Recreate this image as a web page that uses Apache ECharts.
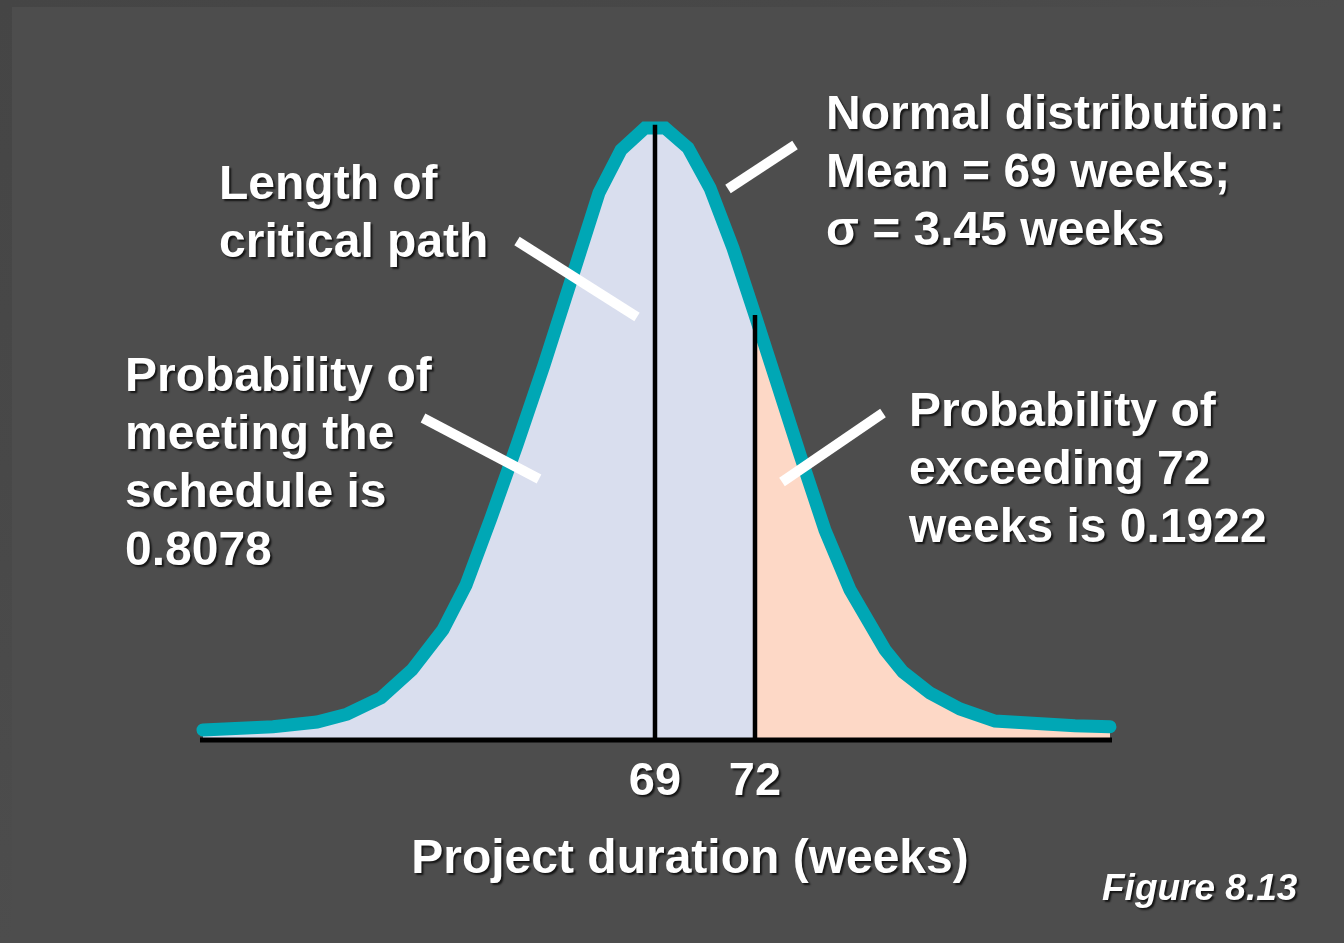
<!DOCTYPE html>
<html>
<head>
<meta charset="utf-8">
<script src="https://cdn.jsdelivr.net/npm/echarts@6/dist/echarts.min.js"></script>
<style>
  html, body { margin: 0; padding: 0; background: #4d4d4d; }
  #chart { width: 1344px; height: 943px; }
</style>
</head>
<body>
<div id="chart"></div>
<script>
// Bell curve of project duration: weeks on x, curve height on y
const curveWeeks = [
  55.44, 57.54, 58.86, 59.76, 60.78, 61.71, 62.64, 63.33, 64.08, 64.86,
  65.67, 66.48, 67.32, 67.98, 68.70, 69.30, 69.99, 70.65, 71.34, 72.00,
  72.63, 73.35, 74.10, 74.85, 75.90, 76.44, 77.25, 78.15, 79.20, 81.60, 82.65
];
const curveHeights = [
  0.0019, 0.0025, 0.0034, 0.0049, 0.0080, 0.0133, 0.0209, 0.0294, 0.0421, 0.0560,
  0.0711, 0.0871, 0.1038, 0.1119, 0.1161, 0.1161, 0.1123, 0.1047, 0.0933, 0.0806,
  0.0683, 0.0541, 0.0398, 0.0285, 0.0171, 0.0129, 0.0089, 0.0059, 0.0036, 0.0027, 0.0025
];

// Mean (length of critical path) and the 72-week deadline markers
const meanWeeks = 69;
const meanHeight = 0.1167;
const deadlineWeeks = 72;
const deadlineHeight = 0.0806;

// Extent of the horizontal base line
const baselineWeeks = [55.35, 82.71];

// Tick values that get a label on the duration axis
const tickLabels = [69, 72];

const FONT = "'Liberation Sans', Arial, Helvetica, sans-serif";
const WHITE = '#ffffff';
const SHADOW = {
  textShadowColor: 'rgba(0,0,0,0.75)',
  textShadowBlur: 2,
  textShadowOffsetX: 2,
  textShadowOffsetY: 2
};

const points = curveWeeks.map((w, i) => [w, curveHeights[i]]);
const meetingPart = points.filter(p => p[0] <= deadlineWeeks);
const exceedingPart = points.filter(p => p[0] >= deadlineWeeks);

function label(text, left, top, extra) {
  return {
    type: 'text',
    left: left,
    top: top,
    z: 10,
    style: Object.assign({
      text: text,
      fill: WHITE,
      font: 'bold 48px ' + FONT,
      lineHeight: 58
    }, SHADOW, extra || {})
  };
}

function leader(x1, y1, x2, y2) {
  return {
    type: 'line',
    z: 9,
    shape: { x1: x1, y1: y1, x2: x2, y2: y2 },
    style: { stroke: WHITE, lineWidth: 10, lineCap: 'butt' }
  };
}

const chart = echarts.init(document.getElementById('chart'), null, { renderer: 'canvas' });

chart.setOption({
  animation: false,
  backgroundColor: '#4d4d4d',
  grid: { left: 188.33, width: 933.33, top: 81, height: 659, containLabel: false },
  xAxis: {
    type: 'value',
    min: 55,
    max: 83,
    interval: 1,
    axisLine: { show: false },
    axisTick: { show: false },
    splitLine: { show: false },
    axisLabel: Object.assign({
      show: true,
      margin: 19,
      color: WHITE,
      fontFamily: FONT,
      fontWeight: 'bold',
      fontSize: 47,
      formatter: v => (tickLabels.indexOf(v) >= 0 ? String(v) : '')
    }, SHADOW)
  },
  yAxis: {
    type: 'value',
    min: 0,
    max: 0.125,
    show: false,
    splitLine: { show: false }
  },
  series: [
    {
      name: 'meeting',
      type: 'line',
      data: meetingPart,
      symbol: 'none',
      lineStyle: { width: 0, opacity: 0 },
      areaStyle: { color: '#d9deee', opacity: 1 },
      z: 1,
      silent: true
    },
    {
      name: 'exceeding',
      type: 'line',
      data: exceedingPart,
      symbol: 'none',
      lineStyle: { width: 0, opacity: 0 },
      areaStyle: { color: '#fdd8c6', opacity: 1 },
      z: 1,
      silent: true
    },
    {
      name: 'curve',
      type: 'line',
      data: points,
      symbol: 'none',
      clip: false,
      lineStyle: { color: '#00a7b5', width: 13, cap: 'round', join: 'miter' },
      z: 2,
      silent: true
    },
    {
      name: 'mean',
      type: 'line',
      data: [[meanWeeks, 0], [meanWeeks, meanHeight]],
      symbol: 'none',
      clip: false,
      lineStyle: { color: '#000000', width: 4.5, cap: 'butt' },
      z: 3,
      silent: true
    },
    {
      name: 'deadline',
      type: 'line',
      data: [[deadlineWeeks, 0], [deadlineWeeks, deadlineHeight]],
      symbol: 'none',
      clip: false,
      lineStyle: { color: '#000000', width: 4.5, cap: 'butt' },
      z: 3,
      silent: true
    },
    {
      name: 'baseline',
      type: 'line',
      data: [[baselineWeeks[0], 0], [baselineWeeks[1], 0]],
      symbol: 'none',
      clip: false,
      lineStyle: { color: '#000000', width: 5, cap: 'butt' },
      z: 4,
      silent: true
    }
  ],
  graphic: [
    // soft darker edge along the top and left of the slide
    {
      type: 'rect', z: -10, silent: true,
      shape: { x: 0, y: 0, width: 1344, height: 7 },
      style: { fill: new echarts.graphic.LinearGradient(0, 0, 1, 0, [
        { offset: 0, color: '#454545' }, { offset: 0.6, color: '#484848' }, { offset: 1, color: '#4d4d4d' }
      ]) }
    },
    {
      type: 'rect', z: -10, silent: true,
      shape: { x: 0, y: 0, width: 12, height: 943 },
      style: { fill: new echarts.graphic.LinearGradient(0, 0, 0, 1, [
        { offset: 0, color: '#454545' }, { offset: 0.5, color: '#484848' }, { offset: 1, color: '#4d4d4d' }
      ]) }
    },
    leader(728, 189, 795, 145),
    leader(517, 241, 637, 317),
    leader(423, 418, 539, 479),
    leader(782, 482, 883, 413),
    label('Normal distribution:\nMean = 69 weeks;\nσ = 3.45 weeks', 826, 87),
    label('Length of\ncritical path', 219, 157),
    label('Probability of\nmeeting the\nschedule is\n0.8078', 125, 349),
    label('Probability of\nexceeding 72\nweeks is 0.1922', 909, 384),
    {
      type: 'text',
      z: 10,
      x: 690,
      y: 860,
      style: Object.assign({
        text: 'Project duration (weeks)',
        fill: WHITE,
        font: 'bold 48px ' + FONT,
        align: 'center',
        verticalAlign: 'middle'
      }, SHADOW)
    },
    {
      type: 'text',
      z: 10,
      left: 1102,
      top: 871,
      style: Object.assign({
        text: 'Figure 8.13',
        fill: WHITE,
        font: 'italic bold 37px ' + FONT
      }, SHADOW)
    }
  ]
});
</script>
</body>
</html>
